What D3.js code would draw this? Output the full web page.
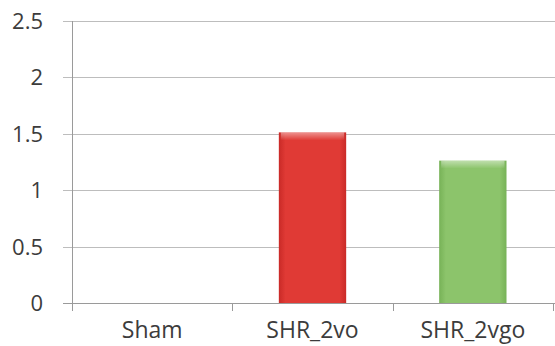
<!DOCTYPE html>
<html>
<head>
<meta charset="utf-8">
<script src="https://cdn.jsdelivr.net/npm/d3@7"></script>
<style>
  html, body { margin: 0; padding: 0; background: #fff; }
  svg { display: block; }
  text { font-family: "Open Sans", sans-serif; fill: #3c3c3c; }
</style>
</head>
<body>
<svg id="chart" width="555" height="346"></svg>
<script>
// Groups and their measured values
const categories = ["Sham", "SHR_2vo", "SHR_2vgo"];
const values = [0, 1.51, 1.26];
const barColors = ["#4f81bd", "#e03a35", "#8cc46b"];
const barEdges = ["#3b6aa0", "#c92a27", "#77b257"];
const yTicks = [0, 0.5, 1, 1.5, 2, 2.5];
const yTickLabels = ["0", "0.5", "1", "1.5", "2", "2.5"];

const svg = d3.select("#chart");
const W = 555, H = 346;
const plot = { left: 72, right: 553, top: 20.5, bottom: 303 };

const x = d3.scaleBand()
  .domain(categories)
  .range([plot.left, plot.right])
  .paddingInner(0.58)
  .paddingOuter(0.29);

const y = d3.scaleLinear()
  .domain([0, 2.5])
  .range([plot.bottom, plot.top]);

// Gradients giving each bar a soft rounded look
const defs = svg.append("defs");
categories.forEach((c, i) => {
  const g = defs.append("linearGradient")
    .attr("id", "grad" + i)
    .attr("x1", "0").attr("x2", "1").attr("y1", "0").attr("y2", "0");
  g.append("stop").attr("offset", "0%").attr("stop-color", barEdges[i]);
  g.append("stop").attr("offset", "10%").attr("stop-color", barColors[i]);
  g.append("stop").attr("offset", "90%").attr("stop-color", barColors[i]);
  g.append("stop").attr("offset", "100%").attr("stop-color", barEdges[i]);
  const t = defs.append("linearGradient")
    .attr("id", "top" + i)
    .attr("x1", "0").attr("x2", "0").attr("y1", "0").attr("y2", "1");
  t.append("stop").attr("offset", "0%").attr("stop-color", "#fff").attr("stop-opacity", 0.45);
  t.append("stop").attr("offset", "100%").attr("stop-color", "#fff").attr("stop-opacity", 0);
});

// Horizontal gridlines with y-axis tick stubs
const yAxis = d3.axisLeft(y)
  .tickValues(yTicks)
  .tickFormat((d, i) => yTickLabels[i])
  .tickSize(-(W - plot.left))
  .tickPadding(0);

const gy = svg.append("g")
  .attr("transform", `translate(${plot.left},0)`)
  .call(yAxis);
gy.select(".domain").remove();
gy.selectAll(".tick line")
  .attr("x1", -9)
  .attr("stroke", "#bdbdbd")
  .attr("stroke-width", 1)
  .attr("shape-rendering", "crispEdges");
gy.selectAll(".tick text")
  .attr("x", -29)
  .attr("dy", "0.36em")
  .style("font-size", "22px")
  .style("font-family", "'Open Sans', sans-serif")
  .attr("fill", "#3c3c3c");

// Vertical axis line
svg.append("line")
  .attr("x1", plot.left).attr("x2", plot.left)
  .attr("y1", plot.top).attr("y2", plot.bottom + 8)
  .attr("stroke", "#9a9a9a")
  .attr("shape-rendering", "crispEdges");

// Bars
const bars = svg.append("g");
categories.forEach((c, i) => {
  if (values[i] <= 0) return;
  const bx = x(c), bw = x.bandwidth();
  const by = y(values[i]), bh = y(0) - y(values[i]);
  bars.append("rect")
    .attr("x", bx).attr("y", by)
    .attr("width", bw).attr("height", bh)
    .attr("fill", `url(#grad${i})`);
  bars.append("rect")
    .attr("x", bx + 2).attr("y", by)
    .attr("width", bw - 4).attr("height", Math.min(8, bh))
    .attr("fill", `url(#top${i})`);
});

// Category axis
const xAxis = d3.axisBottom(x).tickSize(0).tickPadding(0);
const gx = svg.append("g")
  .attr("transform", `translate(0,${plot.bottom})`)
  .call(xAxis);
gx.select(".domain").remove();
gx.selectAll(".tick text")
  .attr("y", 35)
  .attr("dy", 0)
  .style("font-size", "23px")
  .style("font-family", "'Open Sans', sans-serif")
  .attr("fill", "#3c3c3c");

// Baseline and category separators
svg.append("line")
  .attr("x1", plot.left - 9).attr("x2", W)
  .attr("y1", plot.bottom).attr("y2", plot.bottom)
  .attr("stroke", "#9a9a9a")
  .attr("shape-rendering", "crispEdges");
svg.append("g").selectAll("line")
  .data(categories.map((c, i) => plot.left + x.step() * (i + 1)))
  .join("line")
  .attr("x1", d => Math.round(d)).attr("x2", d => Math.round(d))
  .attr("y1", plot.bottom).attr("y2", plot.bottom + 8)
  .attr("stroke", "#9a9a9a")
  .attr("shape-rendering", "crispEdges");
</script>
</body>
</html>
